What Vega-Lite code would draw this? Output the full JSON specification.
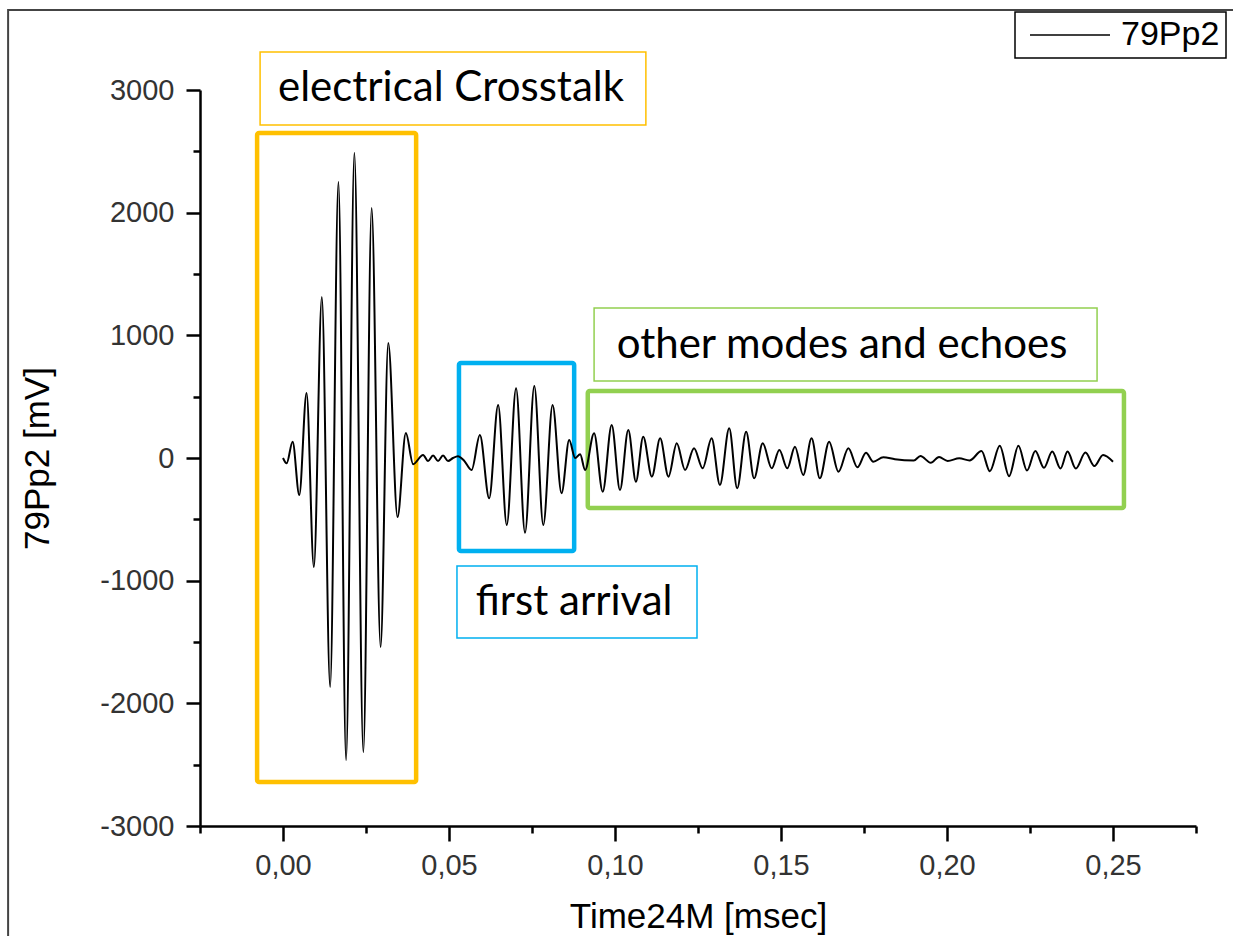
{
  "$schema": "https://vega.github.io/schema/vega-lite/v6.json",
  "width": 996,
  "height": 736,
  "autosize": {"type": "none"},
  "padding": {"left": 200, "top": 90, "right": 37, "bottom": 110},
  "background": "white",
  "config": {"view": {"stroke": null}, "font": "Liberation Sans", "legend": {"strokeWidth": 1.5}},
  "datasets": {
    "signal": [
      {"t": 0.0000, "v": 0}, {"t": 0.0011, "v": -43}, {"t": 0.0029, "v": 133}, {"t": 0.0049, "v": -302},
      {"t": 0.0071, "v": 530}, {"t": 0.0093, "v": -889}, {"t": 0.0117, "v": 1312}, {"t": 0.0142, "v": -1867},
      {"t": 0.0167, "v": 2250}, {"t": 0.0190, "v": -2462}, {"t": 0.0215, "v": 2486}, {"t": 0.0242, "v": -2397},
      {"t": 0.0267, "v": 2038}, {"t": 0.0294, "v": -1541}, {"t": 0.0317, "v": 937}, {"t": 0.0345, "v": -481},
      {"t": 0.0370, "v": 204}, {"t": 0.0392, "v": -50}, {"t": 0.0422, "v": 25}, {"t": 0.0437, "v": -25},
      {"t": 0.0452, "v": 20}, {"t": 0.0467, "v": -25}, {"t": 0.0482, "v": 20}, {"t": 0.0497, "v": -25},
      {"t": 0.0512, "v": 0}, {"t": 0.0527, "v": 15}, {"t": 0.0545, "v": -20},
      {"t": 0.0568, "v": -98}, {"t": 0.0593, "v": 187}, {"t": 0.0621, "v": -329}, {"t": 0.0648, "v": 432},
      {"t": 0.0674, "v": -546}, {"t": 0.0702, "v": 568}, {"t": 0.0729, "v": -609}, {"t": 0.0757, "v": 587},
      {"t": 0.0784, "v": -546}, {"t": 0.0812, "v": 432}, {"t": 0.0839, "v": -288}, {"t": 0.0862, "v": 147},
      {"t": 0.0880, "v": 0}, {"t": 0.0895, "v": 30}, {"t": 0.0910, "v": -98},
      {"t": 0.0937, "v": 201}, {"t": 0.0963, "v": -275}, {"t": 0.0990, "v": 269}, {"t": 0.1015, "v": -261},
      {"t": 0.1040, "v": 228}, {"t": 0.1063, "v": -193}, {"t": 0.1085, "v": 174}, {"t": 0.1111, "v": -152},
      {"t": 0.1136, "v": 160}, {"t": 0.1161, "v": -152}, {"t": 0.1186, "v": 120}, {"t": 0.1211, "v": -98},
      {"t": 0.1238, "v": 79}, {"t": 0.1264, "v": -84}, {"t": 0.1291, "v": 160}, {"t": 0.1316, "v": -220},
      {"t": 0.1344, "v": 242}, {"t": 0.1368, "v": -247}, {"t": 0.1395, "v": 214}, {"t": 0.1419, "v": -166},
      {"t": 0.1445, "v": 120}, {"t": 0.1472, "v": -84}, {"t": 0.1495, "v": 65}, {"t": 0.1519, "v": -84},
      {"t": 0.1542, "v": 92}, {"t": 0.1567, "v": -139}, {"t": 0.1592, "v": 160}, {"t": 0.1617, "v": -166},
      {"t": 0.1645, "v": 133}, {"t": 0.1673, "v": -112}, {"t": 0.1703, "v": 79}, {"t": 0.1730, "v": -76},
      {"t": 0.1756, "v": 43}, {"t": 0.1778, "v": -30}, {"t": 0.1808, "v": 6}, {"t": 0.1843, "v": -10},
      {"t": 0.1900, "v": -20}, {"t": 0.1920, "v": 16}, {"t": 0.1951, "v": -39}, {"t": 0.1976, "v": 8},
      {"t": 0.2002, "v": -24}, {"t": 0.2037, "v": -3}, {"t": 0.2068, "v": -20}, {"t": 0.2104, "v": 57},
      {"t": 0.2129, "v": -108}, {"t": 0.2159, "v": 99}, {"t": 0.2187, "v": -149}, {"t": 0.2215, "v": 99},
      {"t": 0.2241, "v": -102}, {"t": 0.2266, "v": 57}, {"t": 0.2292, "v": -80}, {"t": 0.2317, "v": 52},
      {"t": 0.2342, "v": -86}, {"t": 0.2363, "v": 52}, {"t": 0.2388, "v": -86}, {"t": 0.2417, "v": 44},
      {"t": 0.2444, "v": -66}, {"t": 0.2470, "v": 24}, {"t": 0.2500, "v": -31}
    ],
    "regions": [
      {"region": "crosstalk", "x1": -0.0078, "x2": 0.0401, "y1": 2649, "y2": -2641, "lx1": -0.0069, "lx2": 0.1093, "ly1": 3310, "ly2": 2715, "tx": 0.0506, "ty": 3016, "label": "electrical Crosstalk"},
      {"region": "first", "x1": 0.0530, "x2": 0.0877, "y1": 774, "y2": -758, "lx1": 0.0524, "lx2": 0.1247, "ly1": -880, "ly2": -1467, "tx": 0.0877, "ty": -1174, "label": "first arrival"},
      {"region": "other", "x1": 0.0918, "x2": 0.2533, "y1": 546, "y2": -408, "lx1": 0.0937, "lx2": 0.2452, "ly1": 1223, "ly2": 628, "tx": 0.1684, "ty": 925, "label": "other modes and echoes"}
    ],
    "frame": [{"x1": -0.0828, "x2": 0.30, "y1": 3652, "y2": -4000}]
  },
  "resolve": {"axis": {"x": "independent", "y": "independent"}},
  "layer": [
    {
      "data": {"name": "frame"},
      "mark": {"type": "rect", "filled": false, "stroke": "#444444", "strokeWidth": 2},
      "encoding": {
        "x": {
          "field": "x1", "type": "quantitative", "scale": {"domain": [-0.025, 0.275], "nice": false, "zero": false},
          "axis": {"orient": "bottom", "values": [-0.025, 0.025, 0.075, 0.125, 0.175, 0.225, 0.275], "labels": false, "domain": false, "title": null, "grid": false, "tickSize": 7, "tickWidth": 2.5, "tickColor": "black"}
        },
        "x2": {"field": "x2"},
        "y": {
          "field": "y1", "type": "quantitative", "scale": {"domain": [-3000, 3000], "nice": false, "zero": false},
          "axis": {"orient": "left", "values": [-2500, -1500, -500, 500, 1500, 2500], "labels": false, "domain": false, "title": null, "grid": false, "tickSize": 7, "tickWidth": 2.5, "tickColor": "black"}
        },
        "y2": {"field": "y2"}
      }
    },
    {
      "data": {"name": "regions"},
      "mark": {"type": "rect", "filled": false, "strokeWidth": 1.5},
      "encoding": {
        "x": {"field": "lx1", "type": "quantitative", "axis": null},
        "x2": {"field": "lx2"},
        "y": {"field": "ly1", "type": "quantitative", "axis": null},
        "y2": {"field": "ly2"},
        "stroke": {"field": "region", "type": "nominal", "scale": {"domain": ["crosstalk", "first", "other"], "range": ["#FFC000", "#00B0F0", "#92D050"]}, "legend": null}
      }
    },
    {
      "data": {"name": "regions"},
      "mark": {"type": "rect", "filled": false, "strokeWidth": 4.5, "cornerRadius": 2},
      "encoding": {
        "x": {"field": "x1", "type": "quantitative", "axis": null},
        "x2": {"field": "x2"},
        "y": {"field": "y1", "type": "quantitative", "axis": null},
        "y2": {"field": "y2"},
        "stroke": {"field": "region", "type": "nominal", "legend": null}
      }
    },
    {
      "data": {"name": "regions"},
      "mark": {"type": "text", "font": "Lato", "fontSize": 42, "color": "#000000", "align": "center", "baseline": "middle"},
      "encoding": {
        "x": {"field": "tx", "type": "quantitative", "axis": null},
        "y": {"field": "ty", "type": "quantitative", "axis": null},
        "text": {"field": "label"}
      }
    },
    {
      "data": {"name": "signal"},
      "mark": {"type": "line", "interpolate": "monotone", "strokeWidth": 2},
      "encoding": {
        "x": {
          "field": "t", "type": "quantitative",
          "axis": {
            "orient": "bottom",
            "values": [0, 0.05, 0.1, 0.15, 0.2, 0.25],
            "title": "Time24M [msec]", "titleFont": "Liberation Sans", "titleFontSize": 35, "titleFontWeight": "normal", "titleColor": "black",
            "titleX": 498, "titleY": 101, "titleBaseline": "alphabetic", "titleAlign": "center",
            "labelExpr": "replace(format(datum.value, '.2f'), '.', ',')",
            "labelFont": "Liberation Sans", "labelFontSize": 29, "labelColor": "#333333", "labelPadding": 10, "labelFlush": false, "labelOverlap": false,
            "tickSize": 15, "tickWidth": 2.5, "tickColor": "black", "domainColor": "black", "domainWidth": 2.5, "grid": false
          }
        },
        "y": {
          "field": "v", "type": "quantitative",
          "axis": {
            "orient": "left",
            "values": [-3000, -2000, -1000, 0, 1000, 2000, 3000],
            "title": "79Pp2 [mV]", "titleFont": "Liberation Sans", "titleFontSize": 35, "titleFontWeight": "normal", "titleColor": "black",
            "titleAngle": 270, "titleX": -152, "titleY": 368, "titleBaseline": "alphabetic", "titleAlign": "center",
            "labelExpr": "toString(datum.value)",
            "labelFont": "Liberation Sans", "labelFontSize": 29, "labelColor": "#333333", "labelPadding": 12, "labelOverlap": false,
            "tickSize": 14, "tickWidth": 2.5, "tickColor": "black", "domainColor": "black", "domainWidth": 2.5, "grid": false
          }
        },
        "color": {
          "datum": "79Pp2",
          "scale": {"range": ["black"]},
          "legend": {
            "orient": "none", "legendX": 815, "legendY": -78, "title": null,
            "symbolType": "M-4,0H4", "symbolSize": 400, "symbolStrokeWidth": 1.5, "symbolStrokeColor": "black",
            "labelFont": "Liberation Sans", "labelFontSize": 34, "labelColor": "black", "labelOffset": 34,
            "strokeColor": "black", "fillColor": "white", "padding": 6, "symbolOffset": 32, "cornerRadius": 0
          }
        }
      }
    }
  ]
}
